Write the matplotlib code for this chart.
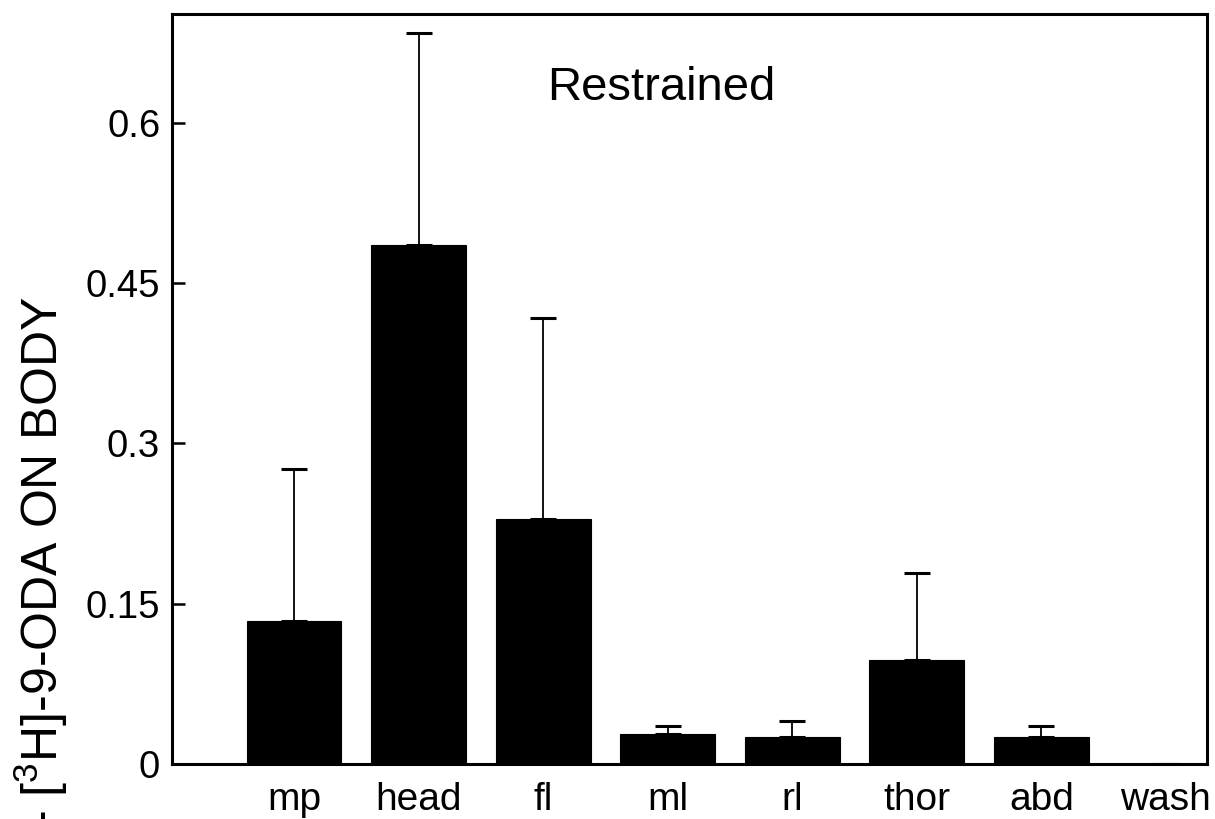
import matplotlib
matplotlib.use("Agg")
import matplotlib.pyplot as plt
import numpy as np

# Body-part distribution of label, restrained bees
categories = ["mp", "head", "fl", "ml", "rl", "thor", "abd", "wash"]
means = [0.1335, 0.486, 0.229, 0.028, 0.0256, 0.0973, 0.025, 0.0]
errors = [0.143, 0.198, 0.188, 0.0076, 0.0144, 0.081, 0.0106, 0.0]
yticks = [0, 0.15, 0.3, 0.45, 0.6]
ytick_labels = ["0", "0.15", "0.3", "0.45", "0.6"]

plt.rcParams["font.family"] = ["Liberation Sans", "DejaVu Sans"]

fig = plt.figure(figsize=(12.15, 8.19), dpi=100)
ax = fig.add_axes([0.1416, 0.0672, 0.8518, 0.9157])

x = np.arange(len(categories))
ax.bar(x, means, width=0.76, color="black", edgecolor="black", linewidth=0.8)
ax.errorbar(x, means, yerr=[np.zeros(len(errors)), errors], fmt="none",
            ecolor="black", elinewidth=1.3, capsize=9.5, capthick=2.2)

ax.set_xlim(-0.98, 7.33)
ax.set_ylim(0, 0.702)
ax.set_yticks(yticks)
ax.set_yticklabels(ytick_labels)
ax.set_xticks(x)
ax.set_xticklabels(categories)

ax.tick_params(axis="y", direction="in", length=9, width=1.8, labelsize=27.5, pad=8.5)
ax.tick_params(axis="x", length=0, labelsize=28, pad=13)

for sp in ax.spines.values():
    sp.set_linewidth(2.2)

ax.text(0.473, 0.885, "Restrained", transform=ax.transAxes, ha="center",
        va="baseline", fontsize=34)

fig.text(0.034, 0.638, "- [$\\mathregular{^{3}}$H]-9-ODA ON BODY", rotation=90,
         ha="center", va="top", fontsize=36)

fig.savefig("out.png", dpi=100, facecolor="white")
